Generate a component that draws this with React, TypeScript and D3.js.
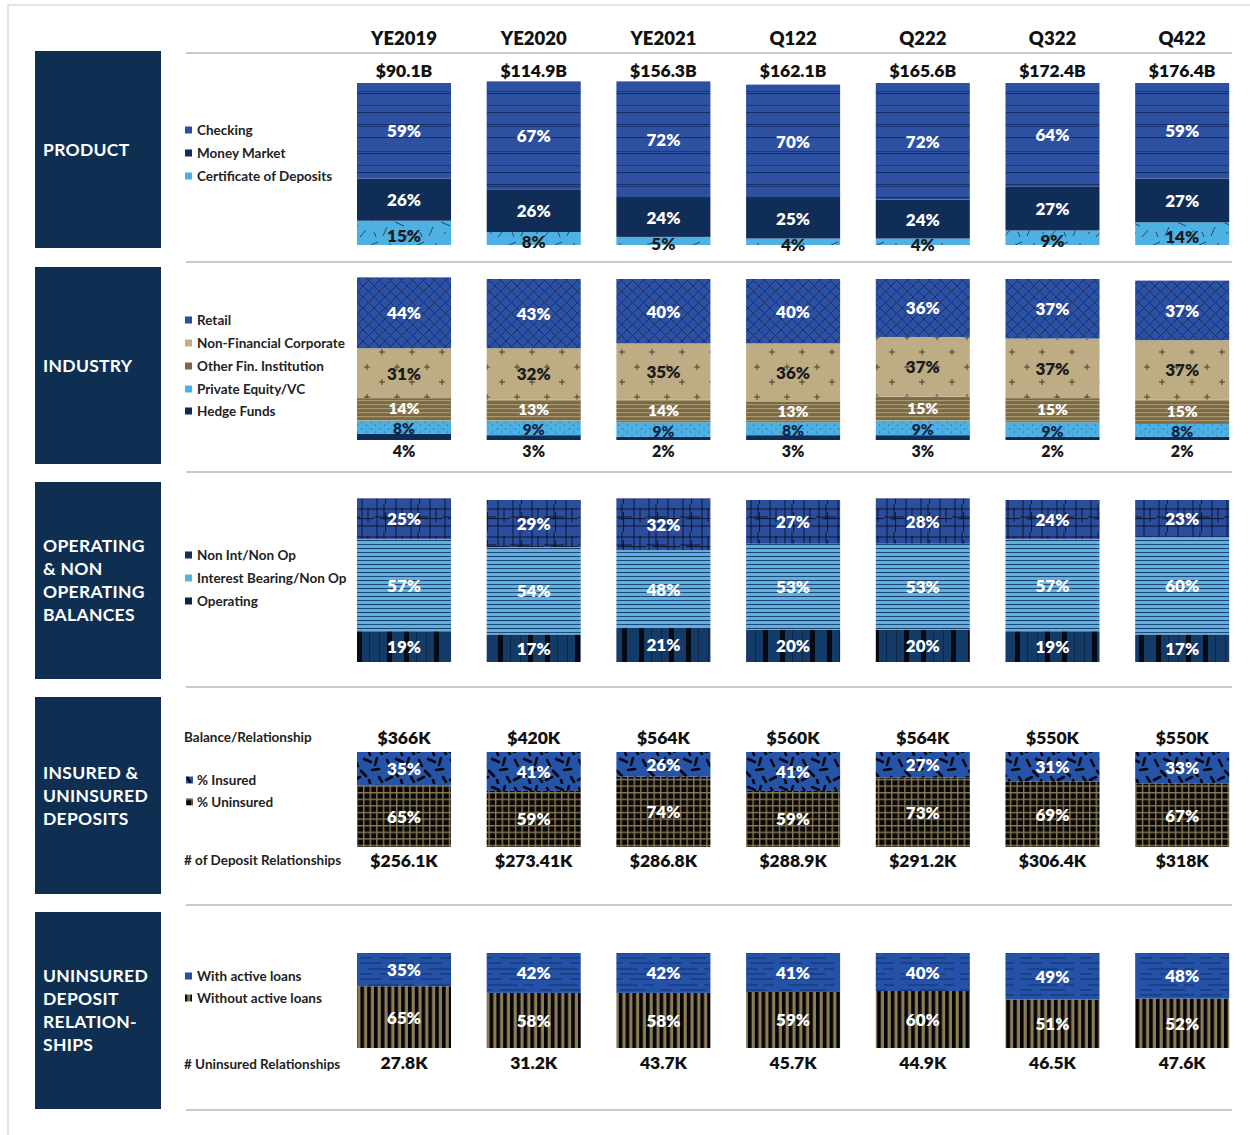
import React from "react";
import * as d3 from "d3";

const periods = ["YE2019", "YE2020", "YE2021", "Q122", "Q222", "Q322", "Q422"];
const totalDeposits = ["$90.1B", "$114.9B", "$156.3B", "$162.1B", "$165.6B", "$172.4B", "$176.4B"];

const checking = [59, 67, 72, 70, 72, 64, 59];
const moneyMarket = [26, 26, 24, 25, 24, 27, 27];
const certificates = [15, 8, 5, 4, 4, 9, 14];

const retail = [44, 43, 40, 40, 36, 37, 37];
const nonFinCorp = [31, 32, 35, 36, 37, 37, 37];
const otherFin = [14, 13, 14, 13, 15, 15, 15];
const privateEquity = [8, 9, 9, 8, 9, 9, 8];
const hedgeFunds = [4, 3, 2, 3, 3, 2, 2];

const nonIntNonOp = [25, 29, 32, 27, 28, 24, 23];
const interestBearing = [57, 54, 48, 53, 53, 57, 60];
const operating = [19, 17, 21, 20, 20, 19, 17];

const balancePerRel = ["$366K", "$420K", "$564K", "$560K", "$564K", "$550K", "$550K"];
const insured = [35, 41, 26, 41, 27, 31, 33];
const uninsured = [65, 59, 74, 59, 73, 69, 67];
const depositRels = ["$256.1K", "$273.41K", "$286.8K", "$288.9K", "$291.2K", "$306.4K", "$318K"];

const withLoans = [35, 42, 42, 41, 40, 49, 48];
const withoutLoans = [65, 58, 58, 59, 60, 51, 52];
const uninsuredRels = ["27.8K", "31.2K", "43.7K", "45.7K", "44.9K", "46.5K", "47.6K"];

const FONT = "Lato, 'Open Sans', sans-serif";

type Series = { key: string; values: number[]; fill: string; label: string; textColor: string; dy?: number; below?: boolean; size?: number };
type Section = { title: string[]; panelTop: number; barTop: number; barBottom: number; series: Series[]; legendY: number[] };

// series listed bottom-first for stacking
const sections: Section[] = [
  {
    title: ["PRODUCT"], panelTop: 51, barTop: 83, barBottom: 245, legendY: [176, 153, 130],
    series: [
      { key: "cd", values: certificates, fill: "url(#pCd)", label: "Certificate of Deposits", textColor: "#1a1a1a", dy: 2.5 },
      { key: "mm", values: moneyMarket, fill: "#0f2d56", label: "Money Market", textColor: "#fff" },
      { key: "chk", values: checking, fill: "url(#pChk)", label: "Checking", textColor: "#fff" },
    ],
  },
  {
    title: ["INDUSTRY"], panelTop: 267, barTop: 279, barBottom: 440, legendY: [411, 389, 366, 343, 320],
    series: [
      { key: "hf", values: hedgeFunds, fill: "#0d2c57", label: "Hedge Funds", textColor: "#1a1a1a", below: true, size: 16 },
      { key: "pe", values: privateEquity, fill: "url(#pPe)", label: "Private Equity/VC", textColor: "#0d2444", dy: 1, size: 15.5 },
      { key: "of", values: otherFin, fill: "url(#pOf)", label: "Other Fin. Institution", textColor: "#fff", dy: -1, size: 15.5 },
      { key: "nf", values: nonFinCorp, fill: "url(#pNf)", label: "Non-Financial Corporate", textColor: "#1a1a1a" },
      { key: "rt", values: retail, fill: "url(#pRt)", label: "Retail", textColor: "#fff" },
    ],
  },
  {
    title: ["OPERATING", "& NON", "OPERATING", "BALANCES"], panelTop: 482, barTop: 500, barBottom: 662, legendY: [601, 578, 555],
    series: [
      { key: "op", values: operating, fill: "url(#pOp)", label: "Operating", textColor: "#fff" },
      { key: "ib", values: interestBearing, fill: "url(#pIb)", label: "Interest Bearing/Non Op", textColor: "#fff" },
      { key: "ni", values: nonIntNonOp, fill: "url(#pNi)", label: "Non Int/Non Op", textColor: "#fff" },
    ],
  },
  {
    title: ["INSURED &", "UNINSURED", "DEPOSITS"], panelTop: 697, barTop: 752, barBottom: 847, legendY: [802, 780],
    series: [
      { key: "un", values: uninsured, fill: "url(#pUn)", label: "% Uninsured", textColor: "#fff" },
      { key: "in", values: insured, fill: "url(#pIn)", label: "% Insured", textColor: "#fff" },
    ],
  },
  {
    title: ["UNINSURED", "DEPOSIT", "RELATION-", "SHIPS"], panelTop: 912, barTop: 953, barBottom: 1048, legendY: [998, 976],
    series: [
      { key: "wo", values: withoutLoans, fill: "url(#pWo)", label: "Without active loans", textColor: "#fff" },
      { key: "wl", values: withLoans, fill: "url(#pWl)", label: "With active loans", textColor: "#fff" },
    ],
  },
];

const separators = [53, 262, 472, 687, 905, 1110];

const x = d3.scaleBand<string>().domain(periods).range([357, 1229.2]).paddingInner(0.275).paddingOuter(0);

const Patterns = () => (
  <defs>
    <pattern id="pChk" width="10" height="60" patternUnits="userSpaceOnUse">
      <rect width="10" height="60" fill="#2d50a1" />
      {[4, 6, 17, 31, 33, 45, 52].map((y, i) => (
        <rect key={i} x="0" y={y} width="10" height={i % 2 === 0 ? 1.1 : 0.7} fill="#152e68" />
      ))}
    </pattern>
    <pattern id="pCd" width="46" height="24" patternUnits="userSpaceOnUse">
      <rect width="46" height="24" fill="#4eb1e4" />
      <g stroke="#1d2a3a" strokeWidth="0.8">
        <line x1="3" y1="5" x2="10" y2="2" />
        <line x1="15" y1="20" x2="19" y2="11" />
        <line x1="27" y1="6" x2="36" y2="10" />
        <line x1="38" y1="21" x2="44" y2="14" />
        <line x1="6" y1="16" x2="8" y2="21" />
      </g>
      <circle cx="22" cy="4" r="0.7" fill="#1d2a3a" />
      <circle cx="31" cy="17" r="0.7" fill="#1d2a3a" />
    </pattern>
    <pattern id="pRt" width="11" height="11" patternUnits="userSpaceOnUse">
      <rect width="11" height="11" fill="#2c50a3" />
      <path d="M0,0L11,11M11,0L0,11" stroke="#14285a" strokeWidth="0.8" />
    </pattern>
    <pattern id="pNf" width="30" height="30" patternUnits="userSpaceOnUse">
      <rect width="30" height="30" fill="#bead84" />
      <path d="M4,7h6M7,4v6M19,22h6M22,19v6" stroke="#4a3f28" strokeWidth="1" />
    </pattern>
    <pattern id="pOf" width="6" height="4" patternUnits="userSpaceOnUse">
      <rect width="6" height="4" fill="#7a6946" />
      <rect y="0" width="6" height="1.2" fill="#a8986f" />
    </pattern>
    <pattern id="pPe" width="9" height="7" patternUnits="userSpaceOnUse">
      <rect width="9" height="7" fill="#4db0e5" />
      <circle cx="2" cy="2" r="0.5" fill="#1a3550" />
      <circle cx="6.5" cy="5" r="0.5" fill="#1a3550" />
    </pattern>
    <pattern id="pNi" width="34" height="28" patternUnits="userSpaceOnUse">
      <rect width="34" height="28" fill="#2a4d9e" />
      <path d="M3,0v28M10,0v16M11.6,8v20M22,0v28M28,4v14M0,5h34M0,13h20M6,14.6h28M0,22h34" stroke="#0a0f1e" strokeWidth="0.9" />
    </pattern>
    <pattern id="pIb" width="8" height="8" patternUnits="userSpaceOnUse">
      <rect width="8" height="8" fill="#5eb0e2" />
      <rect y="0" width="8" height="1" fill="#1b4a7e" />
      <rect y="4" width="8" height="0.8" fill="#0d2444" />
    </pattern>
    <pattern id="pOp" width="47" height="10" patternUnits="userSpaceOnUse">
      <rect width="47" height="10" fill="#143a68" />
      <rect x="11" width="5" height="10" fill="#050a14" />
      <rect x="28" width="5" height="10" fill="#050a14" />
      <rect x="40" width="1" height="10" fill="#0b2646" />
      <rect x="3" width="1" height="10" fill="#0b2646" />
    </pattern>
    <pattern id="pIn" width="32" height="28" patternUnits="userSpaceOnUse">
      <rect width="32" height="28" fill="#2553a8" />
      <g stroke="#05070d" strokeWidth="2.6" strokeLinecap="round">
        <line x1="3" y1="4" x2="6" y2="10" />
        <line x1="12" y1="3" x2="19" y2="6" />
        <line x1="25" y1="2" x2="23" y2="9" />
        <line x1="9" y1="15" x2="14" y2="20" />
        <line x1="20" y1="14" x2="27" y2="13" />
        <line x1="2" y1="24" x2="8" y2="21" />
        <line x1="17" y1="24" x2="18" y2="27" />
        <line x1="27" y1="21" x2="30" y2="26" />
      </g>
    </pattern>
    <pattern id="pUn" width="6.6" height="6.6" patternUnits="userSpaceOnUse">
      <rect width="6.6" height="6.6" fill="#8a7a55" />
      <rect x="1.4" y="1.4" width="5.2" height="5.2" fill="#0a0805" />
    </pattern>
    <pattern id="pWl" width="60" height="16" patternUnits="userSpaceOnUse">
      <rect width="60" height="16" fill="#2452a8" />
      <path d="M0,3h22M30,3h24M8,9h30M44,9h10M0,14h12M20,14h26" stroke="#0b1530" strokeWidth="0.8" strokeOpacity="0.7" />
    </pattern>
    <pattern id="pWo" width="6.8" height="10" patternUnits="userSpaceOnUse">
      <rect width="6.8" height="10" fill="#8a7a55" />
      <rect x="0" width="3.6" height="10" fill="#050505" />
    </pattern>
  </defs>
);

const legendColors: Record<string, string> = {
  chk: "#2c4f9f", mm: "#0f2d56", cd: "#4eb1e4", rt: "#2b4fa1", nf: "#bead84", of: "#7a6946", pe: "#4db0e5",
  hf: "#0d2c57", ni: "#1b2f5c", ib: "#5eb0e2", op: "#0d2444", in: "url(#pIn)", un: "url(#pUn)", wl: "#2452a8", wo: "url(#pWo)",
};

const SectionView = ({ s }: { s: Section }) => {
  const y = d3.scaleLinear().domain([0, 100]).range([s.barBottom, s.barTop]);
  const rows = periods.map((p, i) => {
    const r: Record<string, number | string> = { period: p };
    s.series.forEach((ser) => (r[ser.key] = ser.values[i]));
    return r;
  });
  const stacked = d3.stack<Record<string, number | string>>().keys(s.series.map((d) => d.key))(rows as any);
  const bw = x.bandwidth();
  const titleStart = s.panelTop + 98 - ((s.title.length - 1) * 23) / 2;
  return (
    <g>
      <rect x={35} y={s.panelTop} width={126} height={197} fill="#0f2f52" />
      {s.title.map((t, i) => (
        <text key={t + i} x={43} y={titleStart + i * 23} dominantBaseline="central" fill="#fff" fontSize={17.5} fontWeight={700} letterSpacing={0.3}>
          {t}
        </text>
      ))}
      {s.series.map((ser, si) => (
        <g key={ser.key}>
          <rect x={ser.key === "in" || ser.key === "un" ? 186 : 185} y={s.legendY[si] - 3.5} width={7} height={7} fill={legendColors[ser.key]} />
          <text x={197} y={s.legendY[si]} dominantBaseline="central" fontSize={13.5} fontWeight={700} fill="#222">
            {ser.label}
          </text>
        </g>
      ))}
      {stacked.map((layer, li) => {
        const ser = s.series[li];
        return (
          <g key={ser.key}>
            {layer.map((d, i) => {
              const x0 = x(periods[i])!;
              return <rect key={i} x={x0} y={y(d[1])} width={bw} height={y(d[0]) - y(d[1])} fill={ser.fill} />;
            })}
            {layer.map((d, i) => {
              const cx = x(periods[i])! + bw / 2;
              const cy = ser.below ? s.barBottom + 10 : (y(d[0]) + y(d[1])) / 2 + (ser.dy || 0);
              return (
                <text key={"t" + i} x={cx} y={cy} textAnchor="middle" dominantBaseline="central" fontSize={ser.size || 17} fontWeight={800} fill={ser.textColor}>
                  {ser.values[i]}%
                </text>
              );
            })}
          </g>
        );
      })}
    </g>
  );
};

const App = () => {
  const bw = x.bandwidth();
  const cx = (p: string) => x(p)! + bw / 2;
  const valueText = (yy: number, t: string, key: string) => (
    <text key={key} x={0} y={yy} textAnchor="middle" dominantBaseline="central" fontSize={17.5} fontWeight={800} fill="#111">
      {t}
    </text>
  );
  return (
    <svg width={1250} height={1135} style={{ position: "absolute", left: 0, top: 0, background: "#fff" }} fontFamily={FONT}>
      <Patterns />
      <path d="M8,1135V5H1250" fill="none" stroke="#dcdcdc" strokeWidth={1.5} />
      {separators.map((sy) => (
        <line key={sy} x1={186} x2={1232} y1={sy} y2={sy} stroke="#c9c9c9" strokeWidth={2} />
      ))}
      {periods.map((p, i) => (
        <g key={p} transform={`translate(${cx(p)},0)`}>
          <text x={0} y={38} textAnchor="middle" dominantBaseline="central" fontSize={18.5} fontWeight={800} fill="#111">
            {p}
          </text>
          {valueText(70, totalDeposits[i], "tot")}
          {valueText(737, balancePerRel[i], "bal")}
          {valueText(860, depositRels[i], "dep")}
          {valueText(1062, uninsuredRels[i], "unr")}
        </g>
      ))}
      {sections.map((s) => (
        <SectionView key={s.title.join(" ")} s={s} />
      ))}
      <text x={184} y={737} dominantBaseline="central" fontSize={13.5} fontWeight={700} fill="#222">Balance/Relationship</text>
      <text x={184} y={860} dominantBaseline="central" fontSize={13.5} fontWeight={700} fill="#222"># of Deposit Relationships</text>
      <text x={184} y={1064} dominantBaseline="central" fontSize={13.5} fontWeight={700} fill="#222"># Uninsured Relationships</text>
    </svg>
  );
};

export default App;
